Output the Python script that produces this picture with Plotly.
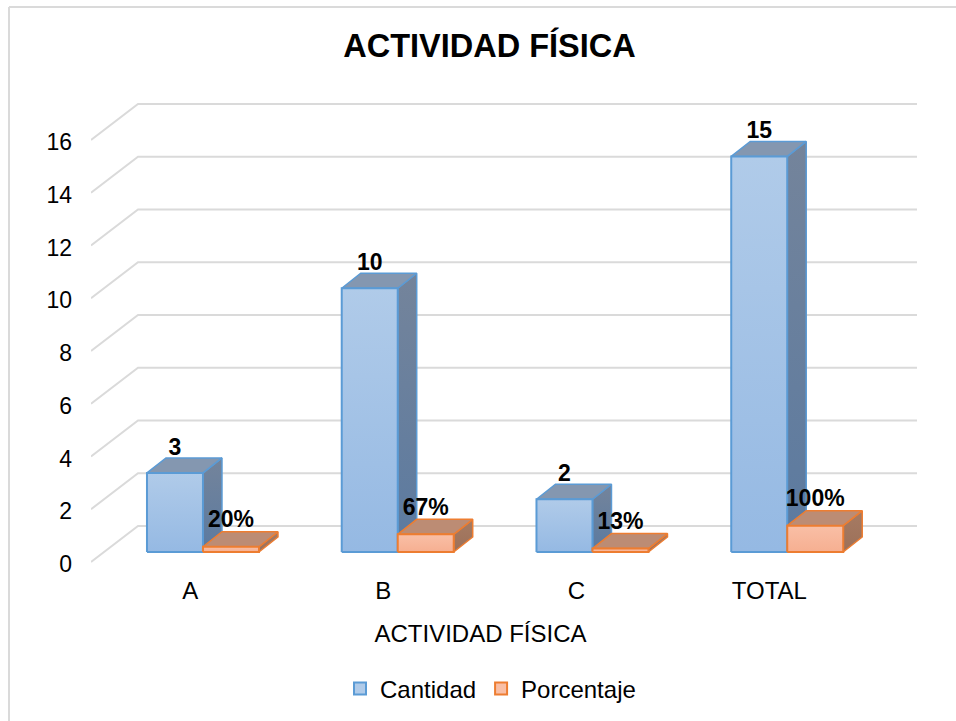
import plotly.graph_objects as go

categories = ["A", "B", "C", "TOTAL"]
cantidad = [3, 10, 2, 15]
porcentaje = [20, 67, 13, 100]
y_ticks = [0, 2, 4, 6, 8, 10, 12, 14, 16]

W, H = 956, 721
L, R, T, ZERO = 91, 870, 140, 562   # front plane of the 3D box
BOT = 568                           # plot bottom, a little below value 0
GRID_R, GRID_T = 925, 97            # full extent including the back wall
XU = (R - L) / len(categories)      # px per category
YU = (ZERO - T) / 16                # px per value unit


def dx(px):
    return px / XU


def dy(px):
    return px / YU


WALL_X, WALL_Y = dx(47), dy(36)
FLOOR_Y = dy(10)
BAR_W = dx(56)
DEPTH_X, DEPTH_Y = dx(19), dy(15)
JOIN = dx(14.6)
Y_LOW = -dy(BOT - ZERO)
GRID = "#DADADA"
FONT = "Liberation Sans, Arial, sans-serif"
BLUE = dict(line="#5B9BD5", front=["#95B9E3", "#B0CBE9"], top="#8497B0", side=["#5B7AA0", "#74849B"])
ORANGE = dict(line="#ED7D31", front=["#F6AF91", "#F9BFA6"], top="#BC8C74", side=["#9C7059", "#A67B63"])

fig = go.Figure()

# back wall gridlines and side diagonals: hidden wider subplot behind the bars
gx, gy = [], []
for v in y_ticks:
    gx += [-0.5, -0.5 + WALL_X, 3.5 + WALL_X, None]
    gy += [v, v + WALL_Y, v + WALL_Y, None]
fig.add_trace(go.Scatter(x=gx, y=gy, mode="lines", line=dict(color=GRID, width=2),
                         hoverinfo="skip", showlegend=False, xaxis="x", yaxis="y"))


def face(xs, ys, st, key, width):
    kw = dict(fillcolor=st[key]) if isinstance(st[key], str) else dict(
        fillgradient=dict(type="vertical", colorscale=[[0, st[key][0]], [1, st[key][1]]]))
    fig.add_trace(go.Scatter(x=xs, y=ys, mode="lines", fill="toself", line=dict(color=st["line"], width=width),
                             hoverinfo="skip", showlegend=False, xaxis="x2", yaxis="y2", **kw))


def box(x0, x1, h, st):
    y0, y1 = FLOOR_Y, FLOOR_Y + h
    face([x1, x1 + DEPTH_X, x1 + DEPTH_X, x1, x1], [y0, y0 + DEPTH_Y, y1 + DEPTH_Y, y1, y0], st, "side", 1.5)
    face([x0, x0 + DEPTH_X, x1 + DEPTH_X, x1, x0], [y1, y1 + DEPTH_Y, y1 + DEPTH_Y, y1, y1], st, "top", 1.5)
    face([x0, x1, x1, x0, x0], [y0, y0, y1, y1, y0], st, "front", 2)


lab_x, lab_y, lab_t = [], [], []
for i, cat in enumerate(categories):
    j = i + JOIN
    box(j - BAR_W, j, cantidad[i], BLUE)
    box(j, j + BAR_W, porcentaje[i] / 100, ORANGE)
    lab_x += [j - BAR_W / 2, j + BAR_W / 2]
    lab_y += [FLOOR_Y + cantidad[i] + dy(24), FLOOR_Y + porcentaje[i] / 100 + dy(25)]
    lab_t += [str(cantidad[i]), f"{porcentaje[i]}%"]

fig.add_trace(go.Scatter(x=lab_x, y=lab_y, text=lab_t, mode="text", textposition="middle center",
                         textfont=dict(family=FONT, size=23, color="#000000", weight="bold"),
                         hoverinfo="skip", showlegend=False, cliponaxis=False, xaxis="x2", yaxis="y2"))

# legend entries
for name, st in (("Cantidad", BLUE), ("Porcentaje", ORANGE)):
    fig.add_trace(go.Scatter(x=[None], y=[None], mode="markers", name=name, xaxis="x2", yaxis="y2",
                             marker=dict(symbol="square", size=12, color=st["front"][1],
                                         line=dict(color=st["line"], width=2))))

pw, ph = GRID_R - L, BOT - GRID_T


def px_x(p):
    return (p - L) / pw


def px_y(p):
    return (BOT - p) / ph


fig.update_layout(
    width=W, height=H, autosize=False,
    margin=dict(l=L, r=W - GRID_R, t=GRID_T, b=H - BOT, pad=0),
    paper_bgcolor="white", plot_bgcolor="rgba(0,0,0,0)",
    font=dict(family=FONT, size=23, color="#000000"),
    title=dict(text="<b>ACTIVIDAD FÍSICA</b>", x=489.5 / W, xanchor="center", y=1 - 46 / H, yanchor="middle",
               font=dict(family=FONT, size=32.5, color="#000000")),
    xaxis=dict(domain=[0, 1], range=[-0.5, -0.5 + dx(pw)], visible=False, anchor="y"),
    yaxis=dict(domain=[0, 1], range=[Y_LOW, dy(ZERO - GRID_T)], visible=False, anchor="x"),
    xaxis2=dict(domain=[0, (R - L) / pw], range=[-0.5, 3.5], anchor="y2", tickmode="array",
                tickvals=[0.01 + i * 0.991 for i in range(len(categories))], ticktext=categories,
                showgrid=False, zeroline=False, showline=False, ticks="", ticklabelstandoff=6,
                tickfont=dict(size=24),
                title=dict(text="ACTIVIDAD FÍSICA", font=dict(size=24), standoff=22)),
    yaxis2=dict(domain=[0, 1], range=[Y_LOW, dy(ZERO - GRID_T)], anchor="x2", tickmode="array",
                tickvals=[v - dy(2) for v in y_ticks], ticktext=[str(v) for v in y_ticks],
                showgrid=False, zeroline=False, showline=False, ticks="", ticklabelstandoff=18,
                tickfont=dict(size=23)),
    legend=dict(orientation="h", xref="container", yref="container", x=340 / W, xanchor="left",
                y=1 - 689 / H, yanchor="middle",
                font=dict(size=24), bgcolor="rgba(0,0,0,0)", itemclick=False, itemdoubleclick=False),
    shapes=[dict(type="line", xref="paper", yref="paper", x0=px_x(9), x1=px_x(9), y0=px_y(H), y1=px_y(7),
                 line=dict(color=GRID, width=2), layer="below"),
            dict(type="line", xref="paper", yref="paper", x0=px_x(9), x1=px_x(W), y0=px_y(7), y1=px_y(7),
                 line=dict(color=GRID, width=2), layer="below")],
)

fig.write_html("out.html", config={"displayModeBar": False}, post_script="document.body.style.margin='0';")
